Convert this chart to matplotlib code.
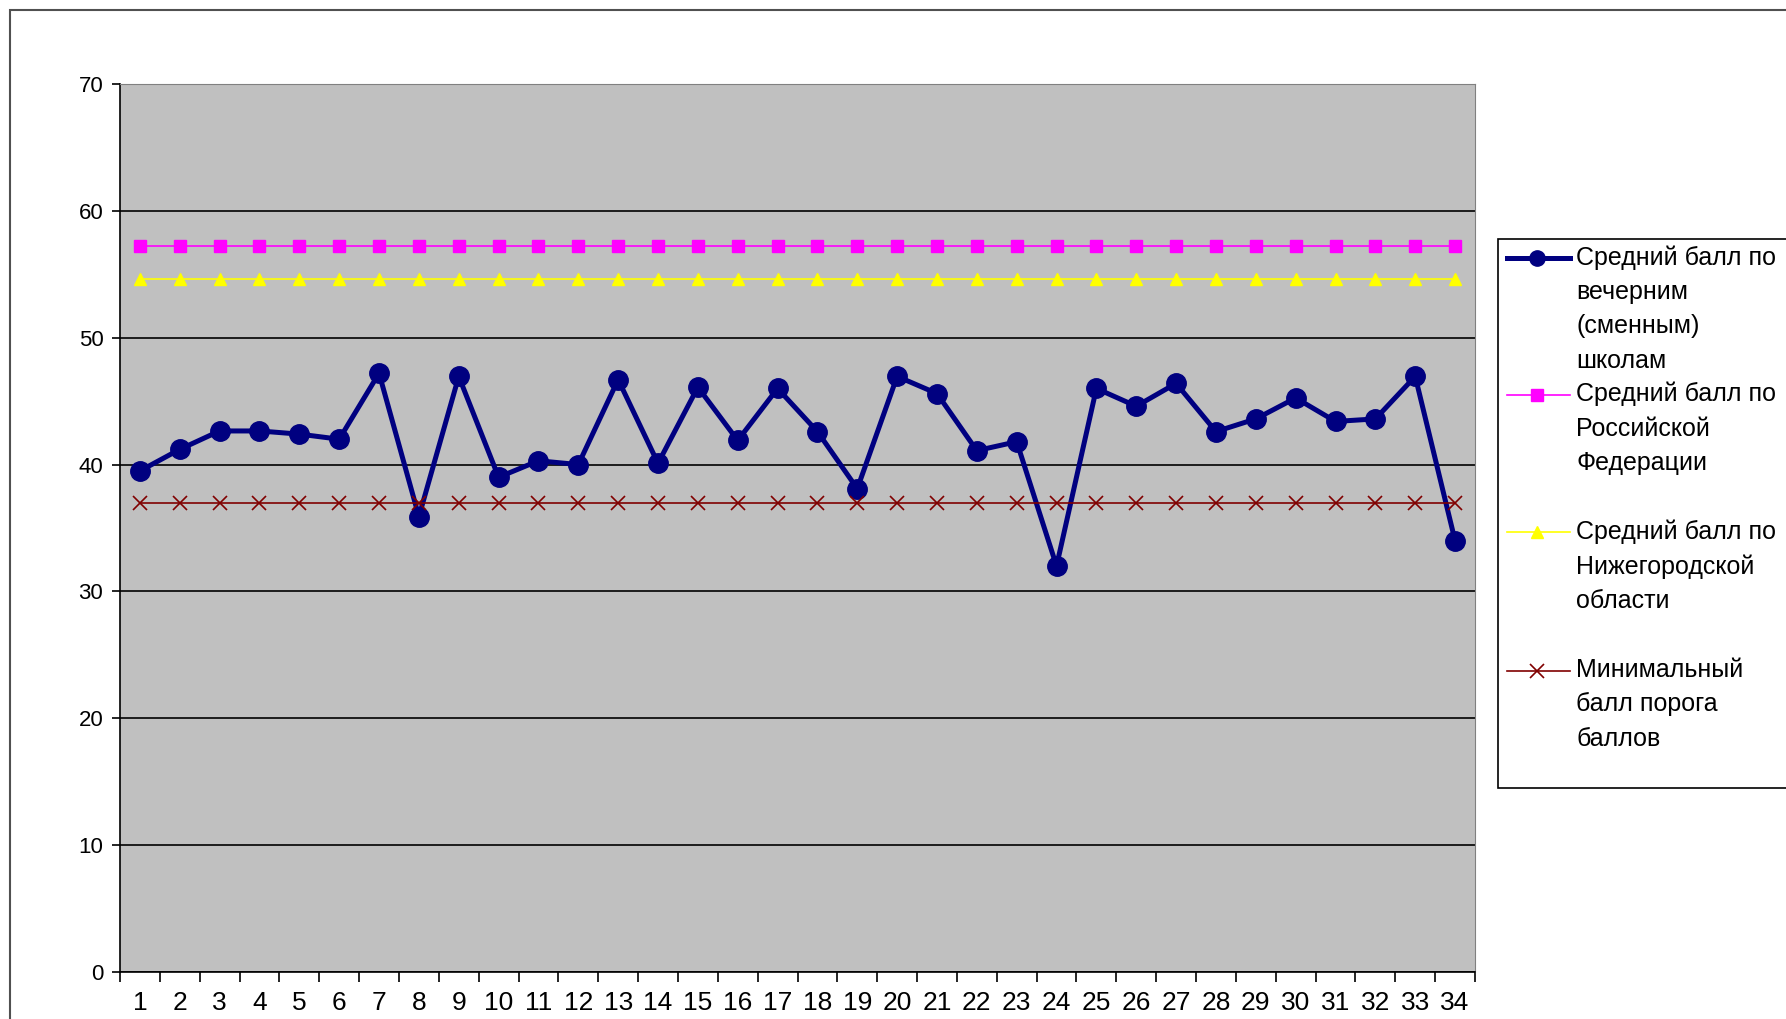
import matplotlib.pyplot as plt
from matplotlib.lines import Line2D
from matplotlib.patches import Rectangle

# data
schools = list(range(1, 35))
evening = [39.5, 41.2, 42.65, 42.65, 42.4, 42.0, 47.2, 35.9, 46.95, 39.0,
           40.3, 40.0, 46.7, 40.1, 46.1, 41.9, 46.0, 42.6, 38.1, 46.95,
           45.6, 41.1, 41.8, 32.0, 46.0, 44.6, 46.4, 42.6, 43.6, 45.25,
           43.4, 43.6, 46.95, 34.0]
russia = [57.2] * 34
region = [54.6] * 34
minimum = [37.0] * 34

labels = ['Средний балл по\nвечерним\n(сменным)\nшколам',
          'Средний балл по\nРоссийской\nФедерации',
          'Средний балл по\nНижегородской\nобласти',
          'Минимальный\nбалл порога\nбаллов']

plt.rcParams['font.family'] = ['Liberation Sans', 'DejaVu Sans']

W, H = 1786, 1019
fig = plt.figure(figsize=(W / 100, H / 100), dpi=100)
ax = fig.add_axes([120 / W, 1 - 972 / H, (1475 - 120) / W, (972 - 84) / H])
ax.set_facecolor('#C0C0C0')

# Series
s1 = dict(color='#000080', lw=3.6, marker='o', ms=14)
s2 = dict(color='#FF00FF', lw=1.2, marker='s', ms=8)
s3 = dict(color='#FFFF00', lw=1.2, marker='^', ms=9)
s4 = dict(color='#800000', lw=1.2, marker='x', ms=10, mew=1.2)
ax.plot(schools, evening, zorder=3, **s1)
ax.plot(schools, russia, zorder=4, **s2)
ax.plot(schools, region, zorder=4, **s3)
ax.plot(schools, minimum, zorder=5, **s4)

ax.set_xlim(0.5, 34.5)
ax.set_ylim(0, 70)
ax.set_yticks(range(0, 71, 10))
ax.yaxis.grid(True, color='black', lw=1.2)
ax.set_axisbelow(True)

ax.set_xticks(schools)
ax.set_xticklabels([str(s) for s in schools], fontsize=19)
ax.set_xticks([s + 0.5 for s in [0] + schools], minor=True)
ax.tick_params(axis='x', which='major', length=0, pad=14)
ax.tick_params(axis='x', which='minor', length=7, width=1.2, direction='out')
ax.tick_params(axis='y', labelsize=16, length=6, width=1.2, pad=6)

for side in ['top', 'right']:
    ax.spines[side].set_color('#808080')
for side in ['left', 'bottom']:
    ax.spines[side].set_color('black')
    ax.spines[side].set_linewidth(1.2)

# outer chart border
fig.patches.append(Rectangle((10 / W, -0.1), 1.2, 1 - 10 / H + 0.1, transform=fig.transFigure,
                             fill=False, edgecolor='#505050', lw=1.5))

# legend drawn by hand, like the Excel one
fig.patches.append(Rectangle((1498 / W, 1 - 788 / H), 0.3, (788 - 239) / H, transform=fig.transFigure,
                             facecolor='white', edgecolor='black', lw=1.2))
rows = [258, 395, 532, 671]
for y, lab, st in zip(rows, labels, [s1, s2, s3, s4]):
    yy = 1 - y / H
    fig.add_artist(Line2D([1507 / W, 1570 / W], [yy, yy], transform=fig.transFigure,
                          color=st['color'], lw=st['lw']))
    mst = {k: v for k, v in st.items() if k in ('marker', 'ms', 'mew')}
    if 'ms' in mst and st['marker'] == 'o':
        mst['ms'] = 11
    fig.add_artist(Line2D([1537 / W], [yy], transform=fig.transFigure,
                          color=st['color'], ls='none', **mst))
    fig.text(1576 / W, yy + 13 / H, lab, fontsize=18, va='top', ha='left', linespacing=1.55)

plt.savefig('out.png', dpi=100)
